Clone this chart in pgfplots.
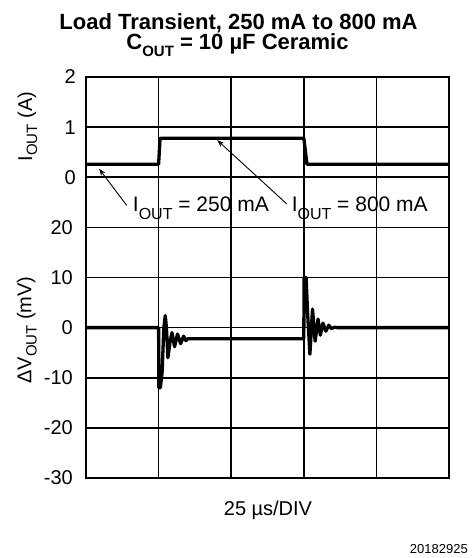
\documentclass[border=0pt]{standalone}
\usepackage{fontspec}
\setmainfont{Liberation Sans}
\usepackage{pgfplots}
\pgfplotsset{compat=1.18}
\usetikzlibrary{arrows.meta}
\newcommand{\sub}[3]{\raisebox{-#2}{\fontsize{#1}{#1}\selectfont #3}}
\begin{document}
\begin{tikzpicture}[x=1pt,y=1pt]
\useasboundingbox (0,0) rectangle (474,558);
% voltage axis (grid)
\begin{axis}[
  at={(86pt,80pt)}, anchor=south west,
  width=363pt, height=401pt, scale only axis,
  xmin=0, xmax=125, ymin=-30, ymax=50,
  xtick={25,50,75,100}, xticklabels={},
  ytick={-30,-20,-10,0,10,20,30,40,50},
  yticklabels={-30,-20,-10,0,10,20,{},{},{}},
  major tick length=0pt,
  grid=major,
  major grid style={black, line width=1.6pt},
  axis line style={black, line width=2.2pt},
  yticklabel style={font=\fontsize{20}{20}\selectfont, anchor=east, inner sep=0pt, xshift=-13pt},
  clip=false,
]
\addplot[black, line width=3.3pt, line join=round] coordinates {
(0,0) (25,0) (25.1,-12) (25.6,-12) (26.2,-9) (26.8,0) (27.3,2.4) (27.7,0) (28.2,-6)
(28.9,-3) (29.6,-1) (30.5,-3.8) (31.5,-1.3) (32.6,-3.2) (33.6,-1.7) (34.4,-2.6)
(35.1,-2.2) (75,-2.2) (75.1,10) (75.8,10) (76.3,3) (77.1,-5.3) (78.0,3.7) (78.9,-2.7)
(79.9,1.7) (80.7,-1.5) (81.6,0.9) (82.6,-0.7) (83.6,0.5) (84.5,-0.2) (85.7,0.1)
(86.5,0) (125,0)
};
\end{axis}
% current axis
\begin{axis}[
  at={(86pt,80pt)}, anchor=south west,
  width=363pt, height=401pt, scale only axis,
  xmin=0, xmax=125, ymin=-6, ymax=2,
  xtick=\empty,
  ytick={0,1,2}, yticklabels={0,1,2},
  major tick length=0pt,
  axis line style={draw=none},
  yticklabel style={font=\fontsize{20}{20}\selectfont, anchor=east, inner sep=0pt, xshift=-10pt},
  clip=false,
]
\addplot[black, line width=3.3pt, line join=round] coordinates {
(0,0.26) (25,0.26) (25.5,0.78) (75,0.78) (76.1,0.26) (125,0.26)
};
\draw[line width=0.9pt, -{Stealth[length=7pt,width=5pt]}] (axis cs:14.0,-0.56) -- (axis cs:4.5,0.17);
\draw[line width=0.9pt, -{Stealth[length=7pt,width=5pt]}] (axis cs:69.1,-0.53) -- (axis cs:45.2,0.74);
\node[anchor=base west, inner sep=0pt, font=\fontsize{21}{21}\selectfont] at (axis cs:16.1,-0.68) {I\sub{16}{8pt}{OUT} = 250 mA};
\node[anchor=base west, inner sep=0pt, font=\fontsize{21}{21}\selectfont] at (axis cs:70.8,-0.68) {I\sub{16}{8pt}{OUT} = 800 mA};
\end{axis}
% titles and labels
\node[anchor=base, inner sep=0pt, font=\fontsize{22}{22}\selectfont\bfseries] at (238.5,528.7) {Load Transient, 250 mA to 800 mA};
\node[anchor=base, inner sep=0pt, font=\fontsize{22}{22}\selectfont\bfseries] at (237.5,508) {C\sub{15}{7pt}{OUT} = 10 µF Ceramic};
\node[anchor=base, rotate=90, inner sep=0pt, font=\fontsize{20}{20}\selectfont] at (32,431.3) {I\sub{15}{5pt}{OUT} (A)};
\node[anchor=base, rotate=90, inner sep=0pt, font=\fontsize{20}{20}\selectfont] at (31.5,228) {ΔV\sub{15}{5pt}{OUT} (mV)};
\node[anchor=base, inner sep=0pt, font=\fontsize{20}{20}\selectfont] at (268,42) {25 µs/DIV};
\node[anchor=base east, inner sep=0pt, font=\fontsize{13}{13}\selectfont] at (468,5) {20182925};
\end{tikzpicture}
\end{document}
